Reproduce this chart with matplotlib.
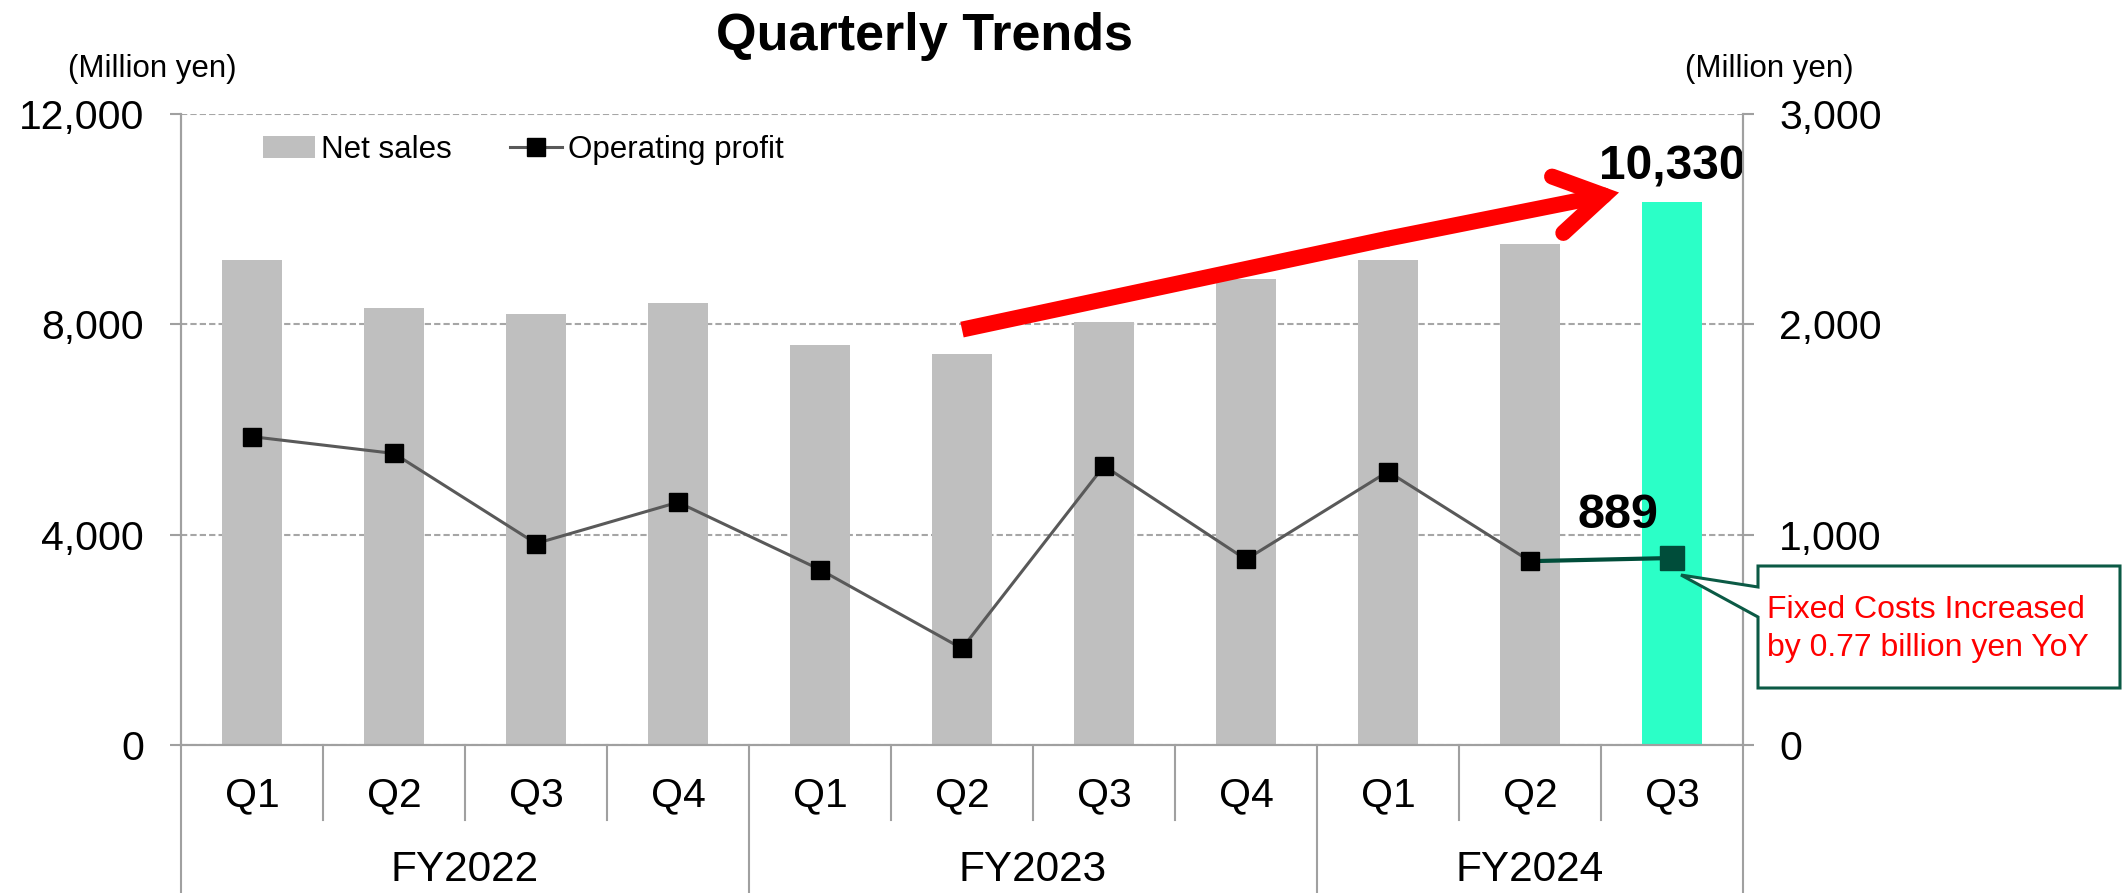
import matplotlib
matplotlib.use("Agg")
import matplotlib.pyplot as plt
from matplotlib.patches import Patch, Polygon, FancyArrowPatch, ArrowStyle
from matplotlib.lines import Line2D
import matplotlib.transforms as mtrans

plt.rcParams['font.family'] = ['Liberation Sans', 'DejaVu Sans']

# ---- data ----
quarters = ["Q1", "Q2", "Q3", "Q4", "Q1", "Q2", "Q3", "Q4", "Q1", "Q2", "Q3"]
years = ["FY2022", "FY2023", "FY2024"]
year_sizes = [4, 4, 3]
net_sales = [9230, 8320, 8190, 8400, 7600, 7440, 8040, 8860, 9215, 9520, 10330]
op_profit = [1466, 1386, 958, 1154, 834, 459, 1327, 882, 1300, 874, 889]
left_ticks = [0, 4000, 8000, 12000]
right_ticks = [0, 1000, 2000, 3000]
note_lines = ["Fixed Costs Increased", "by 0.77 billion yen YoY"]

W, H = 2126, 893
DPI = 100
fig = plt.figure(figsize=(W / DPI, H / DPI), dpi=DPI)

def fx(px):
    return px / W

def fy(py):
    return 1 - py / H

AX_L, AX_R, AX_T, AX_B = 181, 1743, 114, 745
ax = fig.add_axes([fx(AX_L), fy(AX_B), fx(AX_R - AX_L), (AX_B - AX_T) / H])
ax2 = ax.twinx()

GRAY_BAR = "#BFBFBF"
HIGHLIGHT = "#2BFFC7"
DARK_GREEN = "#004D3A"
LINE_GRAY = "#595959"
AXIS_GRAY = "#A0A0A0"

n = len(net_sales)
x = list(range(n))
colors = [GRAY_BAR] * (n - 1) + [HIGHLIGHT]
ax.bar(x, net_sales, width=0.42, color=colors, zorder=1)
ax.set_xlim(-0.5, n - 0.5)
ax.set_ylim(0, 12000)
ax2.set_ylim(0, 3000)

ax.set_axisbelow(True)
ax.set_yticks(left_ticks)
ax.set_yticklabels([f"{v:,}" for v in left_ticks])
ax2.set_yticks(right_ticks)
ax2.set_yticklabels([f"{v:,}" for v in right_ticks])
ax.yaxis.grid(True, color="#A6A6A6", linestyle=(0, (3, 1.5)), linewidth=1.5)
ax.set_xticks([])
ax2.set_xticks([])

for a in (ax, ax2):
    for s in a.spines.values():
        s.set_color(AXIS_GRAY)
        s.set_linewidth(1.5)
    a.spines['top'].set_visible(False)
ax.tick_params(axis='y', length=8, width=1.5, color=AXIS_GRAY, pad=18.5,
               labelsize=29.5, labelcolor="black")
ax2.tick_params(axis='y', length=8, width=1.5, color=AXIS_GRAY, pad=18,
                labelsize=29.5, labelcolor="black")

# operating profit line
ax2.plot(x[:n - 1], op_profit[:n - 1], color=LINE_GRAY, lw=2.2, zorder=2)
ax2.plot(x[n - 2:], op_profit[n - 2:], color=DARK_GREEN, lw=3, zorder=2)
ax2.plot(x[:n - 1], op_profit[:n - 1], linestyle="none", marker="s", ms=13.5,
         mfc="black", mec="black", zorder=3)
ax2.plot(x[n - 1:], op_profit[n - 1:], linestyle="none", marker="s", ms=17,
         mfc=DARK_GREEN, mec=DARK_GREEN, zorder=3)

# value labels
ax.annotate(f"{net_sales[-1]:,}", xy=(x[-1], net_sales[-1]), xytext=(0, 16),
            textcoords="offset points", ha="center", va="baseline",
            fontsize=34.5, fontweight="bold", annotation_clip=False)
ax2.annotate(f"{op_profit[-1]:,}", xy=(x[-1], op_profit[-1]), xytext=(-39, 21.5),
             textcoords="offset points", ha="center", va="baseline",
             fontsize=35, fontweight="bold")

# red trend arrow (in net-sales coordinates)
A_START = (5.0, 7900)
A_MID = (8.0, 9630)
A_TIP = (9.627, 10507)
shaft = FancyArrowPatch(posA=A_START, posB=A_MID, arrowstyle="-",
                        mutation_scale=10, lw=11.5, color="#FF0000",
                        shrinkA=0, shrinkB=0, capstyle="butt",
                        transform=ax.transData, zorder=5, clip_on=False)
head = FancyArrowPatch(posA=A_MID, posB=A_TIP,
                       arrowstyle=ArrowStyle("->", head_length=3.4, head_width=2.07),
                       mutation_scale=10, lw=11.5, color="#FF0000",
                       shrinkA=0, shrinkB=0, capstyle="round", joinstyle="miter",
                       transform=ax.transData, zorder=5, clip_on=False)
ax2.add_patch(shaft)
ax2.add_patch(head)

# category labels and separators
bt = mtrans.blended_transform_factory(ax.transData, ax.transAxes)
ax_h = AX_B - AX_T

def ay(py):
    return (AX_B - py) / ax_h

for i, q in enumerate(quarters):
    ax.text(i, ay(795), q, transform=bt, ha="center", va="center", fontsize=29.5,
            clip_on=False)

year_bounds = []
acc = 0
for s in year_sizes:
    year_bounds.append(acc)
    acc += s
year_bounds.append(acc)
for k in range(1, n):
    bottom = ay(H) if k in year_bounds else ay(820)
    ax.add_line(Line2D([k - 0.5, k - 0.5], [0, bottom], transform=bt,
                       color=AXIS_GRAY, lw=1.5, clip_on=False))
for xe in (-0.5, n - 0.5):
    ax.add_line(Line2D([xe, xe], [0, ay(H)], transform=bt,
                       color=AXIS_GRAY, lw=1.5, clip_on=False))
for j, yname in enumerate(years):
    cx = (year_bounds[j] + year_bounds[j + 1] - 1) / 2
    ax.text(cx, ay(870), yname, transform=bt, ha="center", va="center",
            fontsize=30.5, clip_on=False)

# legend
handles = [Patch(facecolor=GRAY_BAR, edgecolor="none"),
           Line2D([], [], color=LINE_GRAY, lw=2.2, marker="s", ms=13.5,
                  mfc="black", mec="black")]
ax2.legend(handles, ["Net sales", "Operating profit"], ncol=2, loc="center left",
           bbox_to_anchor=(fx(263), fy(150)), bbox_transform=fig.transFigure,
           frameon=False, fontsize=22.5, handlelength=1.65, handletextpad=0.22,
           columnspacing=1.85, borderpad=0, borderaxespad=0, handleheight=0.7)

# titles / units
fig.text(fx(925), fy(50), "Quarterly Trends", ha="center", va="baseline",
         fontsize=37.5, fontweight="bold")
fig.text(fx(152), fy(77), "(Million yen)", ha="center", va="baseline", fontsize=22.5)
fig.text(fx(1769), fy(77), "(Million yen)", ha="center", va="baseline", fontsize=22.5)

# callout box
pts = [(1758, 566), (2120, 566), (2120, 688), (1758, 688), (1758, 617),
       (1681, 575), (1758, 587)]
callout = Polygon([(fx(px), fy(py)) for px, py in pts], closed=True,
                  transform=fig.transFigure, facecolor="white",
                  edgecolor="#0B5A45", lw=2.2, zorder=10)
fig.patches.append(callout)
for line, cy in zip(note_lines, (610, 648)):
    fig.text(fx(1767), fy(cy), line, ha="left", va="center", fontsize=23,
             color="#FF0000", zorder=11)

fig.savefig("out.png", dpi=DPI)
